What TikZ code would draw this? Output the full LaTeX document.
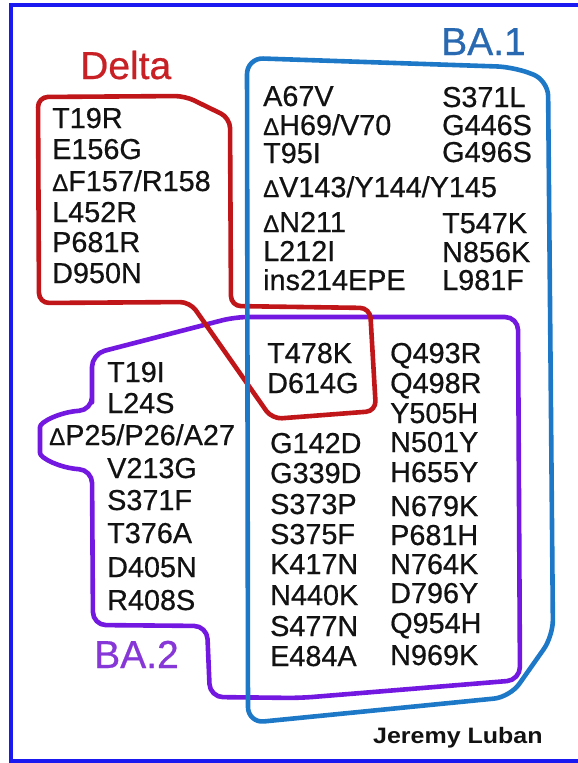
\documentclass[tikz,border=0pt]{standalone}
\usepackage{fontspec}
\setmainfont{Liberation Sans}
\newfontfamily\mutfont{Liberation Sans}[FakeBold=0.6]
\usepackage{graphicx}
\definecolor{deltared}{RGB}{192,22,26}
\definecolor{deltatext}{RGB}{200,32,36}
\definecolor{baoneline}{RGB}{30,120,200}
\definecolor{baonetext}{RGB}{40,105,178}
\definecolor{batwoline}{RGB}{115,24,224}
\definecolor{batwotext}{RGB}{135,55,215}
\definecolor{framec}{RGB}{26,26,240}
\definecolor{ink}{RGB}{18,18,18}
\newcommand{\dl}{{\fontsize{24}{24}\selectfont Δ}}
\begin{document}
\begin{tikzpicture}[x=1pt,y=-1pt,
  mut/.style={anchor=base west, inner sep=0pt, text=ink, font=\mutfont\fontsize{28.8}{30}\selectfont},
  biglabel/.style={anchor=base west, inner sep=0pt, font=\mutfont\fontsize{39}{40}\selectfont},
  setline/.style={line width=4.6pt, line join=round, rounded corners=13pt}]
\useasboundingbox (0,0) rectangle (578,763);
\fill[white] (0,0) rectangle (578,763);
\draw[framec, line width=3.5pt] (11,5) rectangle (590,761);

% BA.2 outline
\draw[setline, batwoline] (92,410) -- (92,354) -- (235,317) -- (518,317) -- (520,680)
  -- (300,698) -- (210,697) -- (207,626) -- (93,625) -- (92,470)
  .. controls (60,468) and (40,458) .. (40,440)
  .. controls (40,422) and (60,412) .. (92,410) -- cycle;
% Delta outline
\draw[setline, deltared, rounded corners=10pt] (38,97) -- (185,96) -- (230,118) -- (231,306)
  -- (370,308) -- (376,411) -- (272,419) -- (190,302) -- (39,303) -- cycle;
% BA.1 outline
\draw[setline, baoneline, rounded corners=16pt] (247,58) -- (513,67) -- (548,80) -- (553,636)
  -- (510,697) -- (248,723) -- cycle;

% labels
\node[biglabel, text=deltatext] (ldelta) at (80,79) {Delta};
\node[biglabel, text=baonetext] (lbaone) at (441,55) {BA.1};
\node[biglabel, text=batwotext] (lbatwo) at (94,668) {BA.2};

% Delta
\node[mut] (d1) at (52,128) {T19R};
\node[mut] (d2) at (52,159) {E156G};
\node[mut] (d3) at (52,191) {\dl F157/R158};
\node[mut] (d4) at (52,222) {L452R};
\node[mut] (d5) at (52,252) {P681R};
\node[mut] (d6) at (52,283) {D950N};

% BA.1 left
\node[mut] (a1) at (263,106) {A67V};
\node[mut] (a2) at (263,135) {\dl H69/V70};
\node[mut] (a3) at (263,163) {T95I};
\node[mut] (a4) at (263,197) {\dl V143/Y144/Y145};
\node[mut] (a5) at (263,232) {\dl N211};
\node[mut] (a6) at (263,261) {L212I};
\node[mut] (a7) at (263,290) {ins214EPE};
% BA.1 right
\node[mut] (b1) at (442,107) {S371L};
\node[mut] (b2) at (442,135) {G446S};
\node[mut] (b3) at (442,162) {G496S};
\node[mut] (b4) at (442,233) {T547K};
\node[mut] (b5) at (442,262) {N856K};
\node[mut] (b6) at (442,290) {L981F};

% shared middle
\node[mut] (c1) at (267,363) {T478K};
\node[mut] (c2) at (267,393) {D614G};
\node[mut] (c3) at (270,453) {G142D};
\node[mut] (c4) at (270,483) {G339D};
\node[mut] (c5) at (270,514) {S373P};
\node[mut] (c6) at (270,544) {S375F};
\node[mut] (c7) at (270,574) {K417N};
\node[mut] (c8) at (270,605) {N440K};
\node[mut] (c9) at (270,636) {S477N};
\node[mut] (c10) at (270,666) {E484A};
% shared right
\node[mut] (e1) at (390,363) {Q493R};
\node[mut] (e2) at (390,393) {Q498R};
\node[mut] (e3) at (390,423) {Y505H};
\node[mut] (e4) at (390,452) {N501Y};
\node[mut] (e5) at (390,482) {H655Y};
\node[mut] (e6) at (390,516) {N679K};
\node[mut] (e7) at (390,545) {P681H};
\node[mut] (e8) at (390,574) {N764K};
\node[mut] (e9) at (390,603) {D796Y};
\node[mut] (e10) at (390,633) {Q954H};
\node[mut] (e11) at (390,665) {N969K};

% BA.2
\node[mut] (f1) at (107,382) {T19I};
\node[mut] (f2) at (107,413) {L24S};
\node[mut] (f3) at (49,445) {\dl P25/P26/A27};
\node[mut] (f4) at (107,478) {V213G};
\node[mut] (f5) at (107,510) {S371F};
\node[mut] (f6) at (107,543) {T376A};
\node[mut] (f7) at (107,577) {D405N};
\node[mut] (f8) at (107,610) {R408S};

\node[anchor=base west, inner sep=0pt, text=ink, font=\fontsize{22.3}{24}\selectfont\bfseries] (author) at (373,743) {\scalebox{1.12}[1]{Jeremy Luban}};
\end{tikzpicture}
\end{document}
